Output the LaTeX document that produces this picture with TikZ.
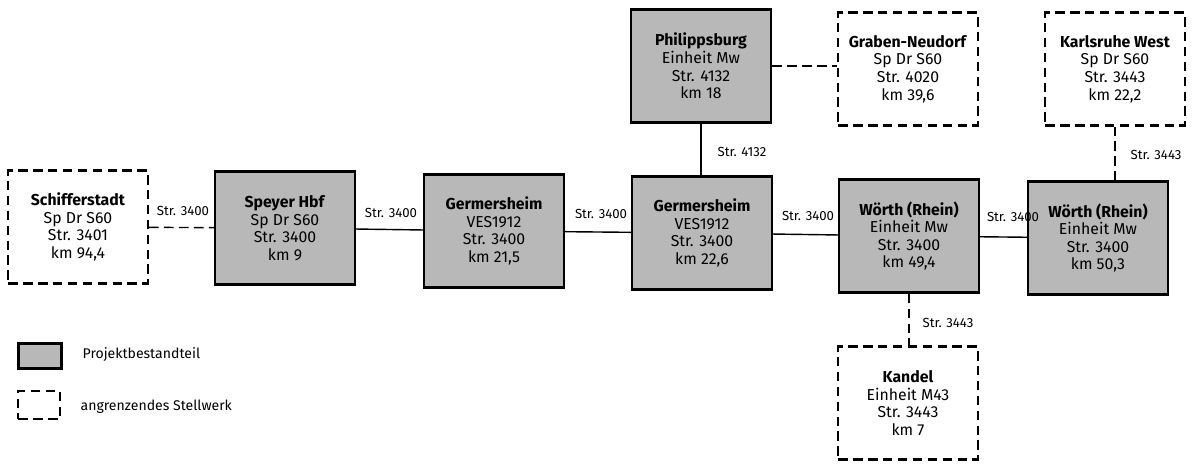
\documentclass[tikz,border=0pt]{standalone}
\usepackage{fontspec}
\setmainfont{Fira Sans}
\begin{document}
\begin{tikzpicture}[x=0.02cm, y=-0.02cm, line width=0.8pt,
  font=\fontsize{9}{10}\selectfont,
  project/.style={draw, line width=1.3pt, fill=black!28, align=center, minimum width=2.8cm, minimum height=2.26cm, inner sep=2pt},
  neighbour/.style={draw, dash pattern=on 5.5pt off 3pt, line width=1.2pt, align=center, minimum width=2.8cm, minimum height=2.26cm, inner sep=2pt},
  track/.style={font=\fontsize{7.5}{9}\selectfont, inner sep=1pt},
  legend/.style={font=\fontsize{8}{9}\selectfont, anchor=west, inner sep=0pt}]
  \useasboundingbox (0,0) rectangle (1192,463);
  % stations on line 3400
  \node[neighbour] (schifferstadt) at (78,227) {\textbf{Schifferstadt}\\Sp Dr S60\\Str. 3401\\km 94,4};
  \node[project] (speyer) at (285,228) {\textbf{Speyer Hbf}\\Sp Dr S60\\Str. 3400\\km 9};
  \node[project] (germersheimA) at (494,231) {\textbf{Germersheim}\\VES1912\\Str. 3400\\km 21,5};
  \node[project] (germersheimB) at (702,233) {\textbf{Germersheim}\\VES1912\\Str. 3400\\km 22,6};
  \node[project] (woerthA) at (909,236) {\textbf{Wörth (Rhein)}\\Einheit Mw\\Str. 3400\\km 49,4};
  \node[project] (woerthB) at (1098,238) {\textbf{Wörth (Rhein)}\\Einheit Mw\\Str. 3400\\km 50,3};
  % branches
  \node[project] (philippsburg) at (701,66) {\textbf{Philippsburg}\\Einheit Mw\\Str. 4132\\km 18};
  \node[neighbour] (graben) at (908,69) {\textbf{Graben-Neudorf}\\Sp Dr S60\\Str. 4020\\km 39,6};
  \node[neighbour] (karlsruhe) at (1115,69) {\textbf{Karlsruhe West}\\Sp Dr S60\\Str. 3443\\km 22,2};
  \node[neighbour] (kandel) at (908,403) {\textbf{Kandel}\\Einheit M43\\Str. 3443\\km 7};
  % connectors
  \draw[dash pattern=on 5.5pt off 3pt] (schifferstadt) -- (speyer);
  \draw (speyer) -- (germersheimA);
  \draw (germersheimA) -- (germersheimB);
  \draw (germersheimB) -- (woerthA);
  \draw (woerthA) -- (woerthB);
  \draw (philippsburg) -- (philippsburg |- germersheimB.north);
  \draw[dash pattern=on 5.5pt off 3pt] (philippsburg) -- (philippsburg -| graben.west);
  \draw[dash pattern=on 5.5pt off 3pt] (karlsruhe) -- (karlsruhe |- woerthB.north);
  \draw[dash pattern=on 5.5pt off 3pt] (woerthA) -- (woerthA |- kandel.north);
  % track labels
  \node[track] (lblA) at (183,211) {Str. 3400};
  \node[track] (lblB) at (391,213) {Str. 3400};
  \node[track] (lblC) at (601,214) {Str. 3400};
  \node[track] (lblD) at (808,216) {Str. 3400};
  \node[track] (lblE) at (1013,217) {Str. 3400};
  \node[track] (lblF) at (742,152) {Str. 4132};
  \node[track] (lblG) at (1156,155) {Str. 3443};
  \node[track] (lblH) at (948,323) {Str. 3443};
  % legend
  \node[draw, line width=1.3pt, fill=black!28, minimum width=0.86cm, minimum height=0.5cm, inner sep=0pt] (keyproject) at (40,356) {};
  \node[legend] (txtproject) at (82,355) {Projektbestandteil};
  \node[draw, dash pattern=on 5.5pt off 3pt, line width=1.2pt, minimum width=0.84cm, minimum height=0.56cm, inner sep=0pt] (keyneighbour) at (39,405) {};
  \node[legend] (txtneighbour) at (80,407) {angrenzendes Stellwerk};
\end{tikzpicture}
\end{document}
